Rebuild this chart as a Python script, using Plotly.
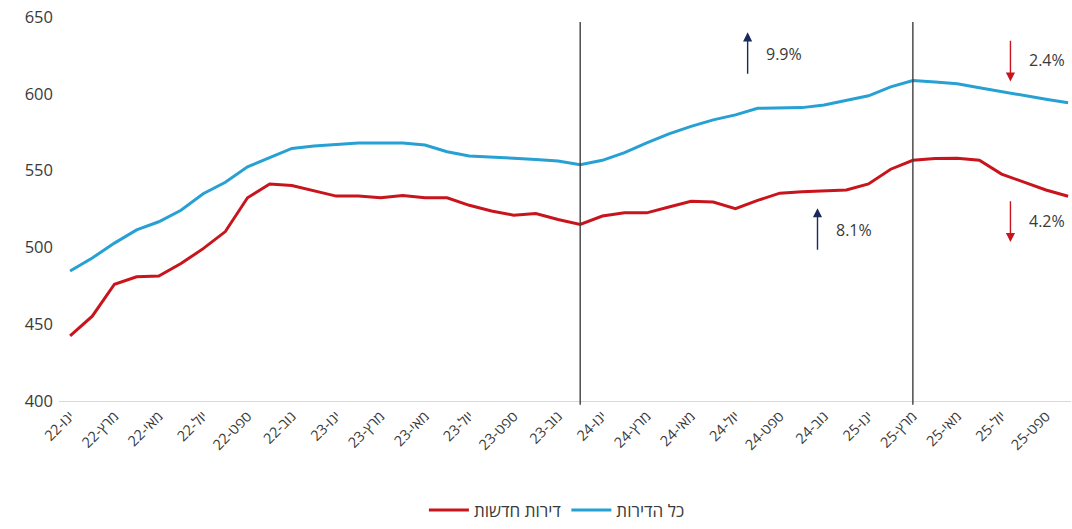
import plotly.graph_objects as go

# Monthly series, Jan 2022 through Oct 2025 (46 months)
months_he = ["ינו", "פבר", "מרץ", "אפר", "מאי", "יונ", "יול", "אוג", "ספט", "אוק", "נוב", "דצמ"]
years = ["22", "23", "24", "25"]
month_labels = [f"{m}-{y}" for y in years for m in months_he][:46]

all_apartments = [
    484.6, 493.1, 502.8, 511.4, 516.7, 524.2, 534.9, 542.4, 552.5, 558.4,
    564.4, 566.0, 566.8, 568.0, 568.0, 568.0, 566.6, 562.3, 559.5, 558.9,
    558.0, 557.2, 556.3, 553.8, 556.7, 561.7, 568.1, 573.9, 578.8, 583.0,
    586.3, 590.6, 591.0, 591.0, 592.7, 595.9, 598.7, 604.5, 608.7, 607.7,
    606.6, 603.9, 601.3, 599.1, 596.5, 594.2,
]
new_apartments = [
    442.4, 455.2, 476.0, 480.9, 481.4, 489.5, 499.2, 510.3, 532.3, 541.3,
    540.3, 537.0, 533.4, 533.4, 532.3, 533.8, 532.3, 532.3, 527.4, 523.7,
    521.0, 522.0, 518.2, 515.0, 520.4, 522.5, 522.5, 526.3, 530.0, 529.5,
    525.2, 530.6, 535.3, 536.2, 536.9, 537.4, 541.3, 550.9, 556.7, 557.8,
    558.0, 556.7, 547.7, 542.4, 537.4, 533.3,
]

series_names = ["דירות חדשות", "כל הדירות"]
series_colors = ["#c8151d", "#27a0d3"]

# Reference months for the vertical markers (Dec-23, Mar-25)
marker_months = [23, 38]

# Change annotations: (label, x of arrow, tail value, head value, colour)
changes = [
    ("9.9%", 30.55, 612.0, 640.0, "#1b2a5c"),
    ("8.1%", 33.7, 497.5, 525.5, "#1b2a5c"),
    ("2.4%", 42.4, 635.5, 608.0, "#c8151d"),
    ("4.2%", 42.4, 531.0, 503.5, "#c8151d"),
]

x_idx = list(range(len(month_labels)))
tick_idx = x_idx[::2]
tick_text = month_labels[::2]

font_family = "Open Sans, DejaVu Sans, sans-serif"
text_color = "#3a3a3a"

fig = go.Figure()
for name, ys, col in zip(series_names, [new_apartments, all_apartments], series_colors):
    fig.add_trace(go.Scatter(
        x=x_idx, y=ys, mode="lines", name=name,
        line=dict(color=col, width=3),
        hoverinfo="skip",
    ))

for m in marker_months:
    fig.add_shape(
        type="line", xref="x", yref="paper",
        x0=m, x1=m, y0=-0.01, y1=0.987,
        line=dict(color="#3f3f3f", width=1.4),
        layer="above",
    )

for label, ax_x, tail, head, col in changes:
    fig.add_annotation(
        x=ax_x, y=head, ax=ax_x, ay=tail,
        xref="x", yref="y", axref="x", ayref="y",
        text="", showarrow=True,
        arrowhead=2, arrowsize=1.3, arrowwidth=1.4, arrowcolor=col,
    )
    fig.add_annotation(
        x=ax_x + 0.75, y=(tail + head) / 2,
        xref="x", yref="y", text=label, showarrow=False,
        xanchor="left", yanchor="middle",
        font=dict(family=font_family, size=16, color=text_color),
    )

fig.update_layout(
    width=1072, height=529,
    margin=dict(l=59, r=1, t=17, b=122),
    paper_bgcolor="white", plot_bgcolor="white",
    font=dict(family=font_family, color=text_color),
    showlegend=True,
    legend=dict(
        orientation="h", x=0.492, y=-0.285,
        xanchor="center", yanchor="middle",
        font=dict(family=font_family, size=17, color=text_color),
        itemwidth=40,
    ),
    xaxis=dict(
        range=[-0.5, 45.13],
        tickmode="array", tickvals=tick_idx, ticktext=tick_text,
        tickangle=-45,
        tickfont=dict(family=font_family, size=14.5, color=text_color),
        showgrid=False, zeroline=False,
        showline=True, linecolor="#d9d9d9", linewidth=1,
        ticks="",
    ),
    yaxis=dict(
        range=[400, 650],
        tickvals=[400, 450, 500, 550, 600, 650],
        tickfont=dict(family=font_family, size=16.5, color=text_color),
        showgrid=False, zeroline=False, showline=False,
        ticklabelstandoff=5,
    ),
)

fig.write_html("out.html")
